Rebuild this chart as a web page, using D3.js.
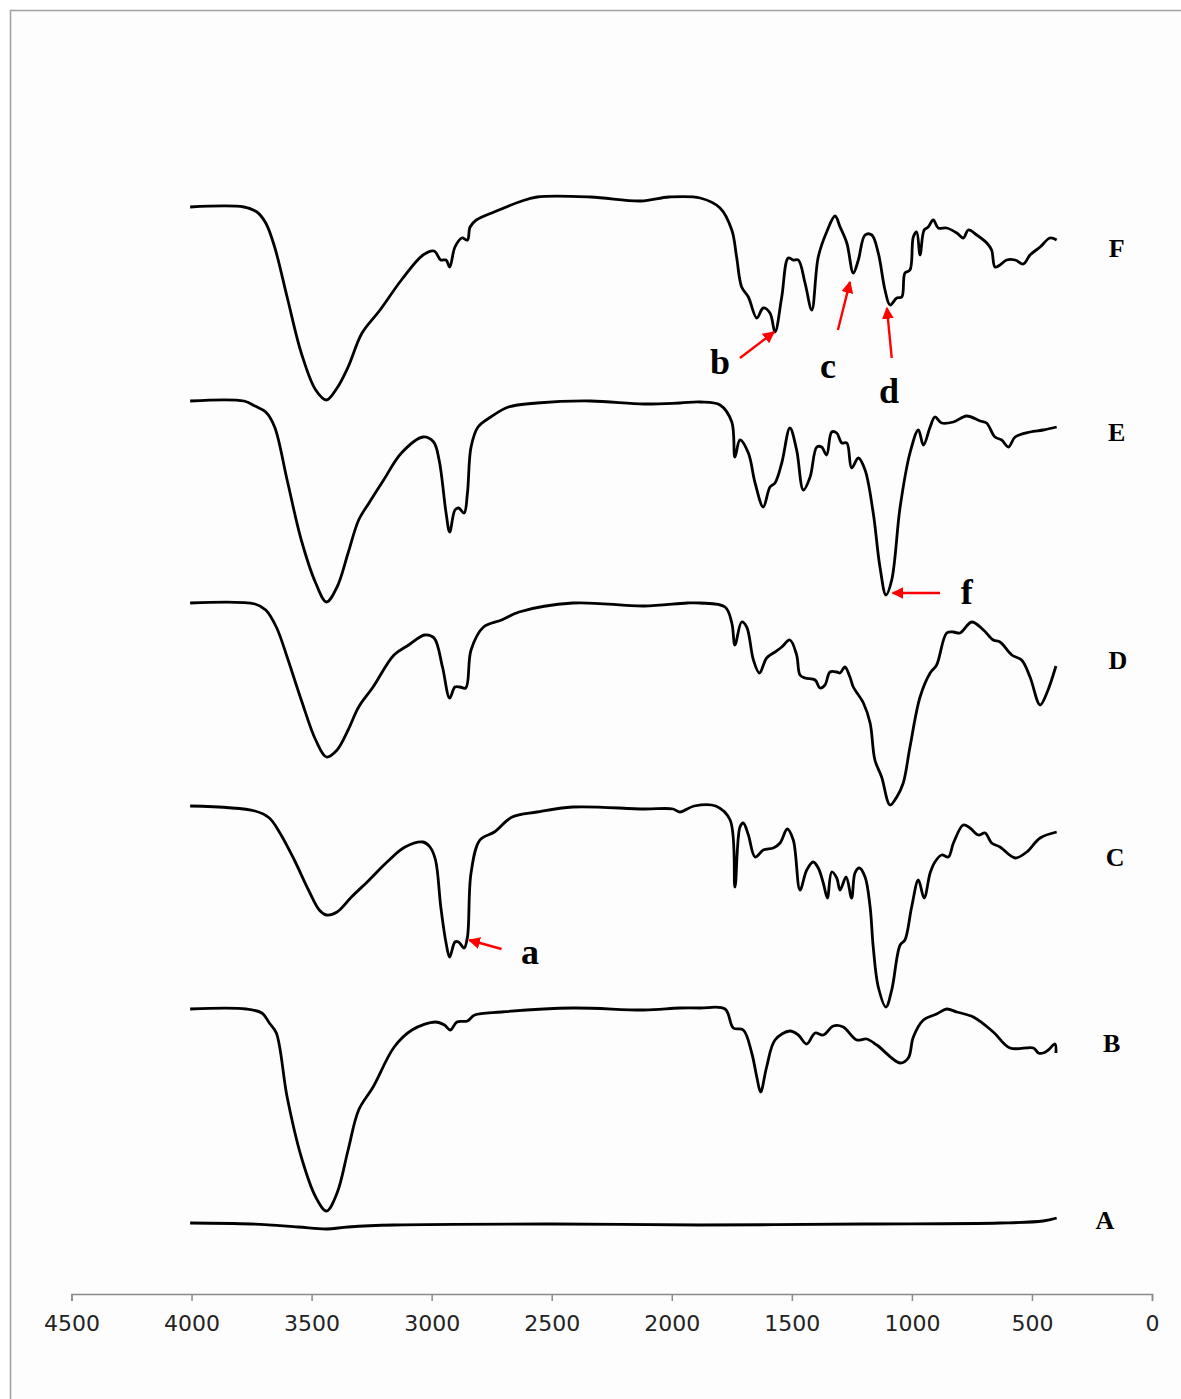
<!DOCTYPE html>
<html>
<head>
<meta charset="utf-8">
<script src="https://cdn.jsdelivr.net/npm/d3@7"></script>
<style>
  body { margin: 0; background: #fff; }
  .tick text { font-family: "DejaVu Sans", Verdana, sans-serif; }
</style>
</head>
<body>
<div id="chart"></div>
<script>
// --------------------------------------
//  data  ([wavenumber cm-1, offset transmittance a.u.])
// --------------------------------------

const seriesA = [
  [4006, 71], [3752, 70], [3557, 67], [3440, 65], [3348, 67], [3157, 69],
  [2500, 70], [1882, 69], [1200, 70], [633, 71], [454, 73], [397, 76]
];

const seriesB = [
  [4006, 285], [3773, 285], [3707, 281], [3676, 271], [3647, 261], [3602, 197],
  [3543, 137], [3483, 97], [3438, 83], [3394, 101], [3348, 144], [3304, 184],
  [3244, 207], [3156, 247], [3082, 264], [2984, 272], [2947, 269], [2922, 264],
  [2895, 272], [2851, 273], [2821, 279], [2709, 282], [2412, 286], [2116, 284],
  [1966, 286], [1882, 286], [1778, 285], [1744, 266], [1702, 264], [1667, 241],
  [1646, 217], [1630, 202], [1605, 227], [1570, 254], [1508, 263], [1473, 259],
  [1438, 250], [1403, 261], [1369, 259], [1327, 268], [1286, 267], [1230, 254],
  [1188, 255], [1146, 249], [1049, 231], [1015, 236], [994, 257], [952, 274],
  [897, 280], [855, 285], [813, 282], [744, 277], [661, 262], [591, 246],
  [494, 246], [473, 241], [453, 241], [432, 244], [404, 250], [400, 241]
];

const seriesC = [
  [4006, 488], [3736, 483], [3676, 476], [3632, 461], [3572, 434], [3513, 404],
  [3468, 384], [3438, 379], [3394, 382], [3334, 397], [3260, 414], [3186, 432],
  [3111, 447], [3036, 452], [3007, 447], [2984, 434], [2962, 387], [2940, 351],
  [2925, 337], [2903, 352], [2888, 352], [2865, 346], [2851, 357], [2836, 421],
  [2799, 454], [2739, 462], [2665, 477], [2561, 482], [2412, 487], [2116, 485],
  [1995, 485], [1966, 482], [1907, 488], [1817, 488], [1757, 474], [1737, 407],
  [1716, 467], [1702, 471], [1681, 459], [1653, 437], [1619, 444], [1577, 446],
  [1549, 451], [1519, 465], [1494, 454], [1466, 404], [1438, 424], [1411, 432],
  [1390, 426], [1369, 411], [1352, 396], [1334, 422], [1313, 416], [1299, 404],
  [1274, 417], [1251, 396], [1237, 421], [1219, 426], [1195, 417], [1174, 387],
  [1161, 347], [1140, 307], [1108, 287], [1084, 304], [1049, 349], [1029, 354],
  [1001, 387], [973, 414], [949, 396], [924, 421], [904, 432], [876, 439],
  [848, 437], [827, 451], [786, 469], [758, 466], [723, 459], [695, 461],
  [668, 451], [633, 447], [570, 436], [522, 442], [466, 456], [397, 462]
];

const seriesD = [
  [4006, 691], [3736, 690], [3691, 684], [3647, 667], [3602, 637], [3543, 594],
  [3483, 554], [3438, 537], [3394, 544], [3348, 564], [3304, 587], [3244, 607],
  [3157, 639], [3096, 649], [3029, 659], [2990, 656], [2955, 627], [2925, 596],
  [2903, 607], [2882, 607], [2858, 606], [2836, 644], [2784, 667], [2709, 674],
  [2636, 682], [2412, 691], [2116, 688], [1936, 691], [1882, 691], [1778, 687],
  [1750, 671], [1737, 649], [1709, 672], [1688, 667], [1660, 634], [1635, 621],
  [1605, 636], [1570, 642], [1542, 647], [1508, 654], [1480, 639], [1466, 619],
  [1445, 616], [1403, 614], [1383, 606], [1362, 609], [1341, 622], [1313, 622],
  [1299, 621], [1279, 627], [1258, 617], [1244, 607], [1202, 591], [1174, 571],
  [1154, 534], [1126, 517], [1091, 489], [1063, 497], [1036, 511], [1008, 547],
  [966, 597], [924, 621], [897, 629], [855, 661], [827, 662], [800, 661],
  [751, 672], [702, 664], [661, 654], [633, 652], [584, 639], [543, 634],
  [508, 617], [466, 589], [438, 601], [400, 628]
];

const seriesE = [
  [4006, 893], [3782, 893], [3736, 888], [3691, 882], [3654, 867], [3602, 814],
  [3543, 754], [3483, 711], [3438, 692], [3394, 707], [3348, 741], [3304, 774],
  [3261, 791], [3200, 814], [3126, 841], [3036, 857], [2992, 852], [2969, 834],
  [2940, 781], [2925, 762], [2903, 784], [2888, 786], [2865, 781], [2851, 801],
  [2836, 847], [2807, 867], [2754, 877], [2680, 887], [2561, 891], [2338, 893],
  [2116, 890], [1966, 891], [1882, 892], [1799, 889], [1750, 872], [1737, 837],
  [1716, 854], [1681, 841], [1653, 811], [1619, 787], [1591, 807], [1570, 811],
  [1542, 831], [1508, 866], [1480, 844], [1452, 804], [1424, 817], [1396, 847],
  [1376, 847], [1355, 839], [1334, 862], [1313, 861], [1292, 851], [1271, 851],
  [1251, 826], [1223, 836], [1195, 824], [1161, 781], [1133, 727], [1108, 699],
  [1084, 714], [1049, 787], [1008, 841], [973, 864], [952, 849], [924, 867],
  [904, 877], [876, 871], [827, 872], [772, 878], [716, 873], [689, 871],
  [654, 857], [626, 854], [598, 847], [570, 857], [508, 862], [453, 864], [397, 867]
];

const seriesF = [
  [4006, 1087], [3782, 1087], [3728, 1082], [3691, 1071], [3654, 1047], [3602, 997],
  [3543, 941], [3483, 904], [3438, 894], [3394, 906], [3348, 927], [3290, 961],
  [3215, 984], [3126, 1014], [3036, 1039], [2990, 1043], [2962, 1034], [2940, 1034],
  [2925, 1027], [2903, 1047], [2874, 1056], [2851, 1054], [2840, 1067], [2814, 1074],
  [2740, 1082], [2636, 1092], [2561, 1097], [2338, 1097], [2129, 1093], [2011, 1097],
  [1882, 1096], [1799, 1086], [1750, 1064], [1730, 1037], [1709, 1007], [1681, 997],
  [1646, 976], [1619, 986], [1591, 981], [1570, 962], [1542, 997], [1515, 1036],
  [1494, 1034], [1473, 1034], [1445, 1011], [1417, 984], [1390, 1037], [1355, 1062],
  [1320, 1078], [1299, 1067], [1271, 1051], [1244, 1021], [1223, 1034], [1195, 1059],
  [1167, 1059], [1140, 1041], [1112, 1004], [1091, 989], [1063, 996], [1042, 997],
  [1029, 1021], [1008, 1024], [994, 1057], [980, 1062], [966, 1039], [949, 1064],
  [932, 1067], [911, 1074], [890, 1066], [855, 1066], [813, 1061], [786, 1056],
  [765, 1064], [730, 1059], [688, 1051], [668, 1044], [654, 1027], [633, 1029],
  [605, 1034], [570, 1034], [536, 1030], [508, 1039], [466, 1047], [425, 1056], [397, 1054]
];

const seriesNames = ["A", "B", "C", "D", "E", "F"];
const seriesData = [seriesA, seriesB, seriesC, seriesD, seriesE, seriesF];
// where each sample name sits, in data units
const nameWn = [196, 168, 154, 142, 147, 147];
const nameVal = [74, 251, 437, 634, 862, 1046];

// peak marks: letter, arrow tip, arrow tail, letter anchor (wn, value)
const peakLetters = ["a", "b", "c", "d", "f"];
const peakTip = [[2844, 354], [1574, 962], [1258, 1012], [1104, 986], [1080, 701]];
const peakTail = [[2709, 345], [1716, 936], [1308, 964], [1084, 936], [883, 701]];
const peakText = [[2590, 341], [1799, 931], [1349, 927], [1095, 902], [771, 701]];

const xTicks = [4500, 4000, 3500, 3000, 2500, 2000, 1500, 1000, 500, 0];

// --------------------------------------
//  Canvas
// --------------------------------------

const width = 1181, height = 1399;

const svg = d3.select("#chart")
  .append("svg")
    .attr("width", width)
    .attr("height", height)
    .attr("viewBox", [0, 0, width, height]);

svg.append("rect")
    .attr("x", 10.5).attr("y", 10.5)
    .attr("width", 1200).attr("height", 1400)
    .attr("fill", "#fdfdfd")
    .attr("stroke", "#a0a0a0")
    .attr("stroke-width", 1.5);

// --------------------------------------
//  Scales
// --------------------------------------

const x = d3.scaleLinear()
    .domain([4500, 0])
    .range([71.5, 1152]);

const y = d3.scaleLinear()
    .domain([0, 1100])
    .range([1294, 194]);

// --------------------------------------
//  Axes
// --------------------------------------

const xAxis = svg.append("g")
    .attr("transform", `translate(0, ${y(0)})`)
    .call(d3.axisBottom(x)
      .tickValues(xTicks)
      .tickFormat(d3.format("d"))
      .tickSize(7)
      .tickPadding(14));

xAxis.select(".domain").attr("stroke", "#8a8a8a").attr("stroke-width", 1.5);
xAxis.selectAll(".tick line").attr("stroke", "#8a8a8a").attr("stroke-width", 1.5);
xAxis.selectAll(".tick text")
    .attr("font-size", 22)
    .attr("fill", "#222");

// --------------------------------------
//  spectra
// --------------------------------------

const line = d3.line()
    .x(d => x(d[0]))
    .y(d => y(d[1]))
    .curve(d3.curveCatmullRom.alpha(0.5));

svg.selectAll(".spectrum")
    .data(seriesData)
    .join("path")
    .attr("class", "spectrum")
    .attr("d", line)
    .attr("fill", "none")
    .attr("stroke", "#000")
    .attr("stroke-width", 2.8)
    .attr("stroke-linejoin", "round");

svg.selectAll(".sample-name")
    .data(seriesNames)
    .join("text")
    .attr("class", "sample-name")
    .attr("x", (d, i) => x(nameWn[i]))
    .attr("y", (d, i) => y(nameVal[i]))
    .attr("dy", "0.35em")
    .attr("text-anchor", "middle")
    .attr("font-family", "'Liberation Serif', 'Times New Roman', serif")
    .attr("font-weight", "bold")
    .attr("font-size", 26)
    .text(d => d);

// --------------------------------------
//  peak arrows
// --------------------------------------

svg.append("defs")
  .append("marker")
    .attr("id", "head")
    .attr("viewBox", "0 0 10 10")
    .attr("refX", 9)
    .attr("refY", 5)
    .attr("markerWidth", 5)
    .attr("markerHeight", 5)
    .attr("orient", "auto")
  .append("path")
    .attr("d", "M0,0 L10,5 L0,10 Z")
    .attr("fill", "#f00");

svg.selectAll(".peak-arrow")
    .data(peakLetters)
    .join("line")
    .attr("class", "peak-arrow")
    .attr("x1", (d, i) => x(peakTail[i][0]))
    .attr("y1", (d, i) => y(peakTail[i][1]))
    .attr("x2", (d, i) => x(peakTip[i][0]))
    .attr("y2", (d, i) => y(peakTip[i][1]))
    .attr("stroke", "#f00")
    .attr("stroke-width", 2.4)
    .attr("marker-end", "url(#head)");

svg.selectAll(".peak-letter")
    .data(peakLetters)
    .join("text")
    .attr("class", "peak-letter")
    .attr("x", (d, i) => x(peakText[i][0]))
    .attr("y", (d, i) => y(peakText[i][1]))
    .attr("dy", "0.3em")
    .attr("text-anchor", "middle")
    .attr("font-family", "'Liberation Serif', 'Times New Roman', serif")
    .attr("font-weight", "bold")
    .attr("font-size", 36)
    .text(d => d);
</script>
</body>
</html>
